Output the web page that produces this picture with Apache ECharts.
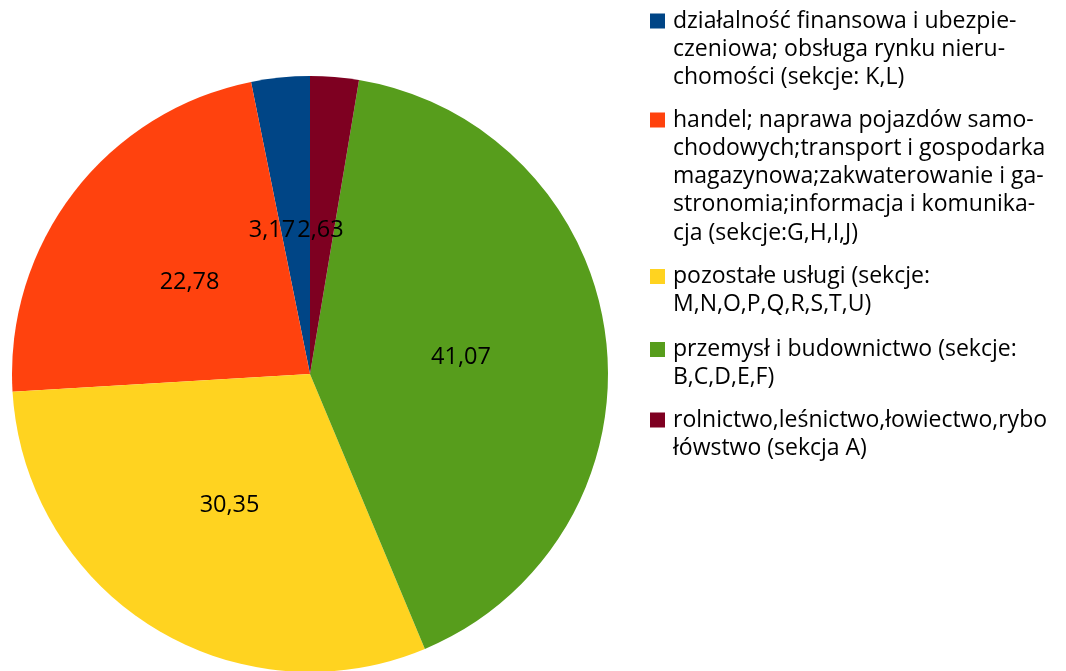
<!DOCTYPE html>
<html>
<head>
<meta charset="utf-8">
<script src="https://cdn.jsdelivr.net/npm/echarts@6/dist/echarts.min.js"></script>
<style>html,body{margin:0;padding:0;background:#fff;}#c{width:1066px;height:671px;}</style>
</head>
<body>
<div id="c"></div>
<script>
const categories = [
  'działalność finansowa i ubezpieczeniowa; obsługa rynku nieruchomości (sekcje: K,L)',
  'handel; naprawa pojazdów samochodowych;transport i gospodarka magazynowa;zakwaterowanie i gastronomia;informacja i komunikacja (sekcje:G,H,I,J)',
  'pozostałe usługi (sekcje: M,N,O,P,Q,R,S,T,U)',
  'przemysł i budownictwo (sekcje: B,C,D,E,F)',
  'rolnictwo,leśnictwo,łowiectwo,rybołówstwo (sekcja A)'
];
const legendLines = [
  ['działalność finansowa i ubezpie-', 'czeniowa; obsługa rynku nieru-', 'chomości (sekcje: K,L)'],
  ['handel; naprawa pojazdów samo-', 'chodowych;transport i gospodarka', 'magazynowa;zakwaterowanie i ga-', 'stronomia;informacja i komunika-', 'cja (sekcje:G,H,I,J)'],
  ['pozostałe usługi (sekcje:', 'M,N,O,P,Q,R,S,T,U)'],
  ['przemysł i budownictwo (sekcje:', 'B,C,D,E,F)'],
  ['rolnictwo,leśnictwo,łowiectwo,rybo', 'łówstwo (sekcja A)']
];
const values = [3.17, 22.78, 30.35, 41.07, 2.63];
const colors = ['#004586', '#ff420e', '#ffd320', '#579d1c', '#7e0021'];

// styling only
const FONT = '"Open Sans"';
const LH = 28.3;
const markerCenters = [21, 120, 276.5, 349.5, 420];
const labelOffsets = [[-23, 8], [0, 1], [0, 2], [0, 1], [-2, 8]];

const legends = categories.map((name, i) => {
  const n = legendLines[i].length;
  const h = n * LH;
  const sq = LH / 2 - 7.5;
  const iconPath = 'path://M0,0L0.001,0M0,' + sq + 'L15,' + sq + 'L15,' + (sq + 15) + 'L0,' + (sq + 15) + 'ZM0,' + h + 'L0.001,' + h;
  return {
    orient: 'vertical',
    left: 650,
    top: markerCenters[i] - LH / 2,
    padding: 0,
    itemWidth: 15,
    itemHeight: h,
    icon: iconPath,
    data: [name],
    formatter: () => legendLines[i].join('\n'),
    textStyle: {
      fontFamily: FONT,
      fontSize: 23,
      color: '#000',
      lineHeight: LH,
      padding: [0, 0, 0, 3]
    },
    selectedMode: false
  };
});

const chart = echarts.init(document.getElementById('c'), null, {renderer: 'canvas'});
chart.setOption({
  animation: false,
  color: colors,
  legend: legends,
  series: [{
    type: 'pie',
    center: [310, 374],
    radius: 298,
    startAngle: 90,
    clockwise: false,
    itemStyle: {borderWidth: 0},
    emphasis: {disabled: true},
    labelLine: {show: false},
    labelLayout: {hideOverlap: false},
    label: {
      show: true,
      position: 'inside',
      fontFamily: FONT,
      fontSize: 23.5,
      color: '#000',
      formatter: p => p.value.toFixed(2).replace('.', ',')
    },
    data: categories.map((name, i) => ({
      name: name,
      value: values[i],
      label: {offset: labelOffsets[i]}
    }))
  }]
});
</script>
</body>
</html>
